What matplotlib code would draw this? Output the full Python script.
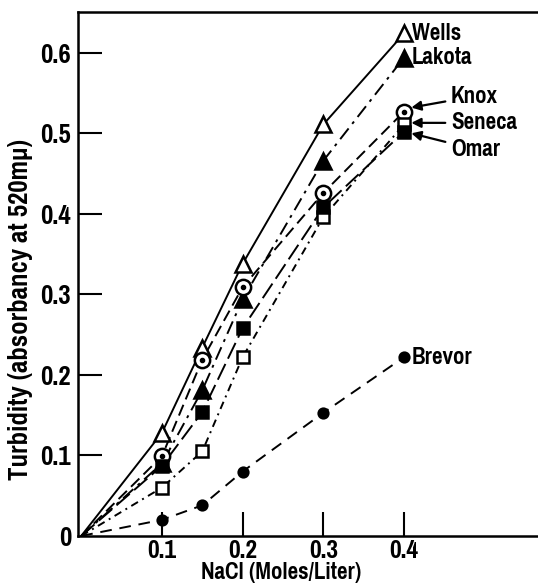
import matplotlib
matplotlib.use("Agg")
import matplotlib.pyplot as plt
from matplotlib import font_manager

# NaCl concentration (moles/liter) and turbidity per variety
nacl = [0.0, 0.1, 0.15, 0.2, 0.3, 0.4]
wells = [0.0, 0.128, 0.234, 0.338, 0.511, 0.624]
lakota = [0.0, 0.09, 0.181, 0.294, 0.466, 0.594]
knox = [0.0, 0.099, 0.219, 0.309, 0.426, 0.527]
seneca = [0.0, 0.06, 0.105, 0.222, 0.396, 0.511]
omar = [0.0, 0.087, 0.154, 0.258, 0.408, 0.502]
brevor = [0.0, 0.02, 0.038, 0.08, 0.153, 0.222]

xticks = [0.1, 0.2, 0.3, 0.4]
yticks = [0, 0.1, 0.2, 0.3, 0.4, 0.5, 0.6]
ytick_labels = ["0", "0.1", "0.2", "0.3", "0.4", "0.5", "0.6"]

# look for a narrow bold face, the scan uses a condensed grotesque
pick = None
for key in ["narrow-bold", "narrowbold", "condensed-bold", "condensedbold", "condensed_bold"]:
    for f in font_manager.fontManager.ttflist:
        fn = f.fname.lower()
        if key in fn and "italic" not in fn and "oblique" not in fn:
            pick = f
            break
    if pick:
        break
if pick:
    plt.rcParams["font.family"] = [pick.name, "DejaVu Sans"]
    plt.rcParams["font.weight"] = pick.weight
    plt.rcParams["font.stretch"] = pick.stretch
    plt.rcParams["axes.labelweight"] = pick.weight
else:
    plt.rcParams["font.family"] = ["DejaVu Sans"]
    plt.rcParams["font.weight"] = "bold"
    plt.rcParams["axes.labelweight"] = "bold"

fig = plt.figure(figsize=(5.38, 5.87), dpi=100)
ax = fig.add_axes([0.145, 0.087, 0.855, 0.893])

series = [
    (wells, "-", "^", "white", 11),
    (lakota, (0, (7, 3, 1.5, 3)), "^", "black", 11),
    (knox, (0, (6, 3)), "o", "white", 11),
    (seneca, (0, (4, 2.5, 1, 2.5)), "s", "white", 9),
    (omar, (0, (9, 3)), "s", "black", 9),
    (brevor, (0, (6, 4)), "o", "black", 7),
]
for vals, ls, mk, fc, ms in series:
    ax.plot(nacl, vals, color="black", lw=1.4, ls=ls, zorder=2)
    ax.plot(nacl[1:], vals[1:], ls="none", marker=mk, ms=ms, mfc=fc,
            mec="black", mew=1.8, zorder=3)
# dot in the centre of the Knox circles
ax.plot(nacl[1:], knox[1:], ls="none", marker="o", ms=3, color="black", zorder=4)

ax.set_xlim(-0.004, 0.566)
ax.set_ylim(0, 0.651)
ax.spines["right"].set_visible(False)
for s in ["left", "bottom", "top"]:
    ax.spines[s].set_linewidth(1.8)

ax.set_xticks(xticks)
ax.set_xticklabels([str(v) for v in xticks])
ax.set_yticks(yticks)
ax.set_yticklabels(ytick_labels)
ax.tick_params(axis="both", direction="in", length=17, width=1.5, labelsize=20)
ax.tick_params(axis="x", pad=2)
ax.tick_params(axis="y", pad=5, labelsize=21)
ax.yaxis.get_major_ticks()[0].tick1line.set_visible(False)

ax.set_xlabel("NaCl (Moles/Liter)", fontsize=18)
ax.xaxis.set_label_coords(0.441, -0.05)
ax.set_ylabel("Turbidity (absorbancy at 520m\u03bc)", fontsize=21)
ax.yaxis.set_label_coords(-0.098, 0.431)

ax.text(0.41, 0.624, "Wells", fontsize=18, va="center", ha="left")
ax.text(0.41, 0.594, "Lakota", fontsize=18, va="center", ha="left")
ax.text(0.41, 0.222, "Brevor", fontsize=18, va="center", ha="left")

arrow = dict(arrowstyle="-|>", color="black", lw=1.6, mutation_scale=14,
             shrinkA=2, shrinkB=0)
ax.annotate("Knox", xy=(0.409, 0.532), xytext=(0.458, 0.546),
            fontsize=18, va="center", ha="left", arrowprops=arrow)
ax.annotate("Seneca", xy=(0.409, 0.513), xytext=(0.458, 0.513),
            fontsize=18, va="center", ha="left", arrowprops=arrow)
ax.annotate("Omar", xy=(0.409, 0.5), xytext=(0.458, 0.48),
            fontsize=18, va="center", ha="left", arrowprops=arrow)

fig.savefig("out.png", dpi=100)
